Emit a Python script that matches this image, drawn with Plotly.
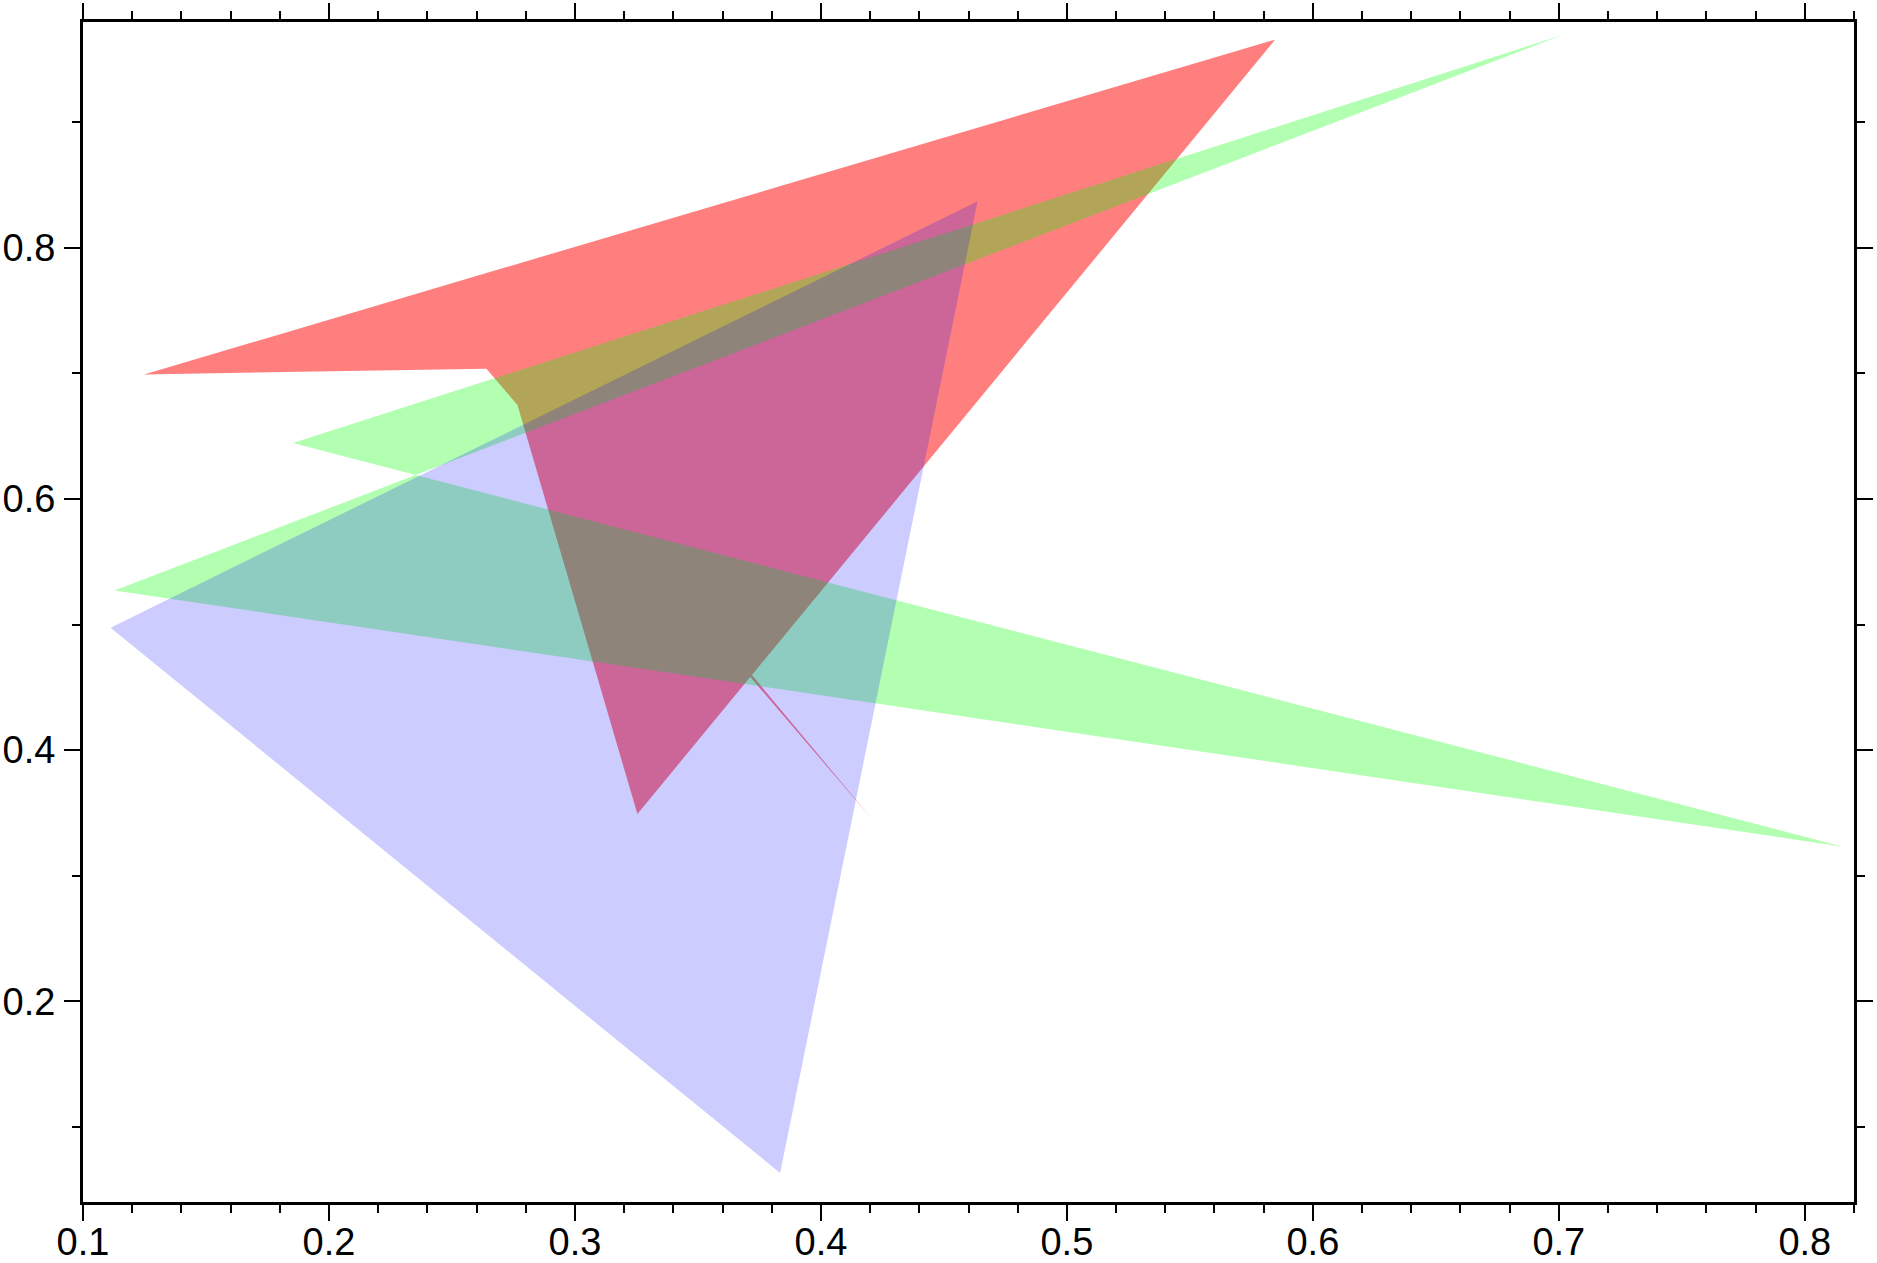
import plotly.graph_objects as go

# Polygon vertices (data coordinates)
red_x = [0.1248, 0.5847, 0.3254, 0.2746, 0.4211, 0.2640]
red_y = [0.6990, 0.9655, 0.3492, 0.6882, 0.3444, 0.7036]

green_x = [0.1853, 0.7020, 0.1128, 0.8154]
green_y = [0.6444, 0.9695, 0.5270, 0.3232]

blue_x = [0.1112, 0.4637, 0.3834]
blue_y = [0.4975, 0.8368, 0.0635]

x_range = [0.1, 0.82]
y_range = [0.0404, 0.9795]

fig = go.Figure()
for xs, ys, col in [(red_x, red_y, "rgba(255,0,0,0.5)"),
                    (green_x, green_y, "rgba(0,255,0,0.3)"),
                    (blue_x, blue_y, "rgba(0,0,255,0.2)")]:
    fig.add_trace(go.Scatter(x=xs + xs[:1], y=ys + ys[:1], mode="none",
                             fill="toself", fillcolor=col, hoverinfo="skip",
                             showlegend=False))

font = dict(family="Liberation Sans, Arial, Helvetica, sans-serif", size=38, color="black")
common = dict(showline=True, linewidth=3, linecolor="black", mirror="allticks",
              ticks="outside", ticklen=16, tickwidth=2, tickcolor="black",
              showgrid=False, zeroline=False, tickfont=font, automargin=False)

fig.update_xaxes(range=x_range, tick0=0.1, dtick=0.1, ticklabelstandoff=-12,
                 minor=dict(dtick=0.02, tick0=0.1, ticks="outside", ticklen=8,
                            tickwidth=2, tickcolor="black", showgrid=False),
                 **common)
fig.update_yaxes(range=y_range, tick0=0.0, dtick=0.2, ticklabelstandoff=1,
                 minor=dict(dtick=0.1, tick0=0.0, ticks="outside", ticklen=8,
                            tickwidth=2, tickcolor="black", showgrid=False),
                 **common)

fig.update_layout(width=1877, height=1263,
                  margin=dict(l=83, r=23, t=22, b=61, pad=0),
                  plot_bgcolor="white", paper_bgcolor="white")

fig.write_html("out.html", config={"displayModeBar": False},
               post_script="document.body.style.margin='0';")
